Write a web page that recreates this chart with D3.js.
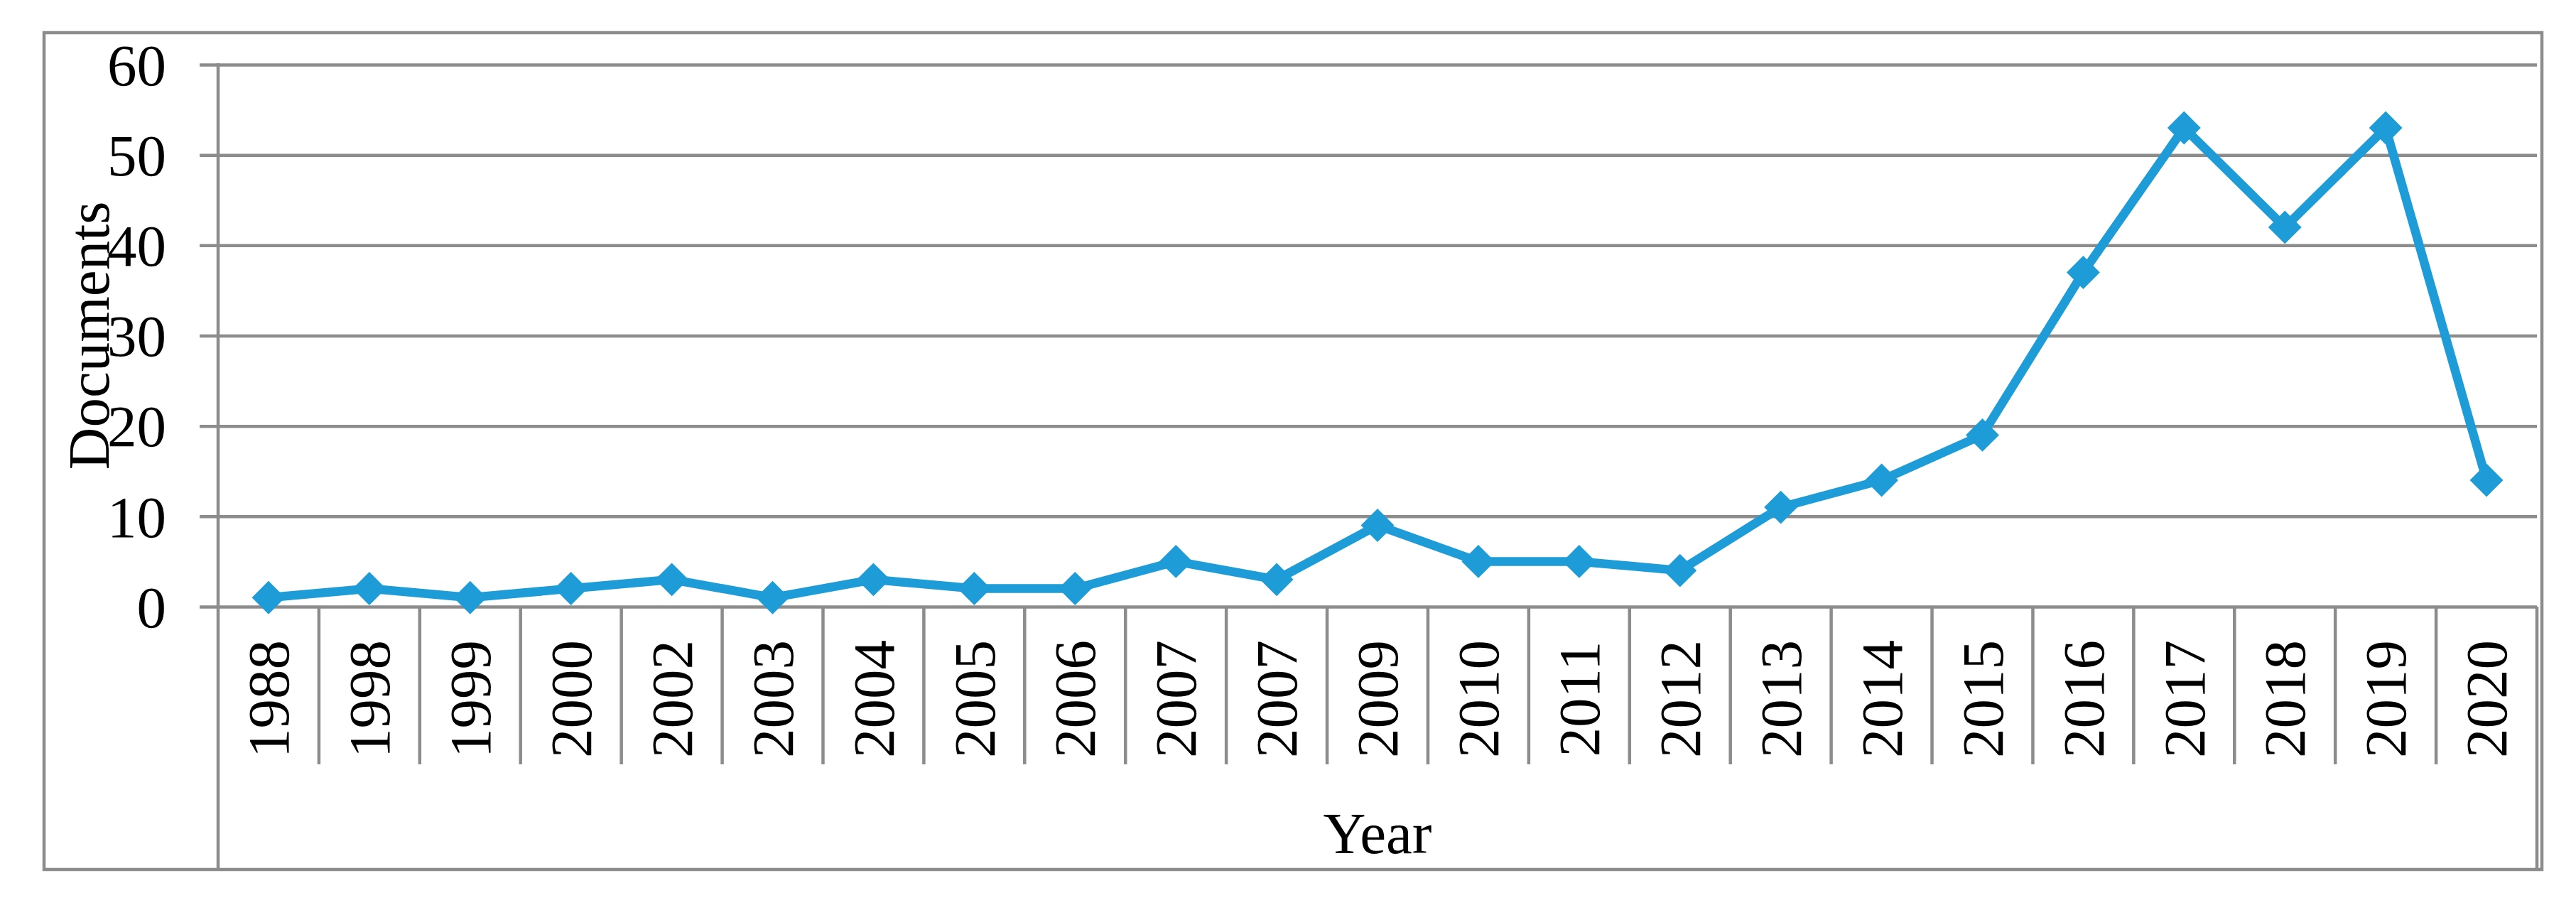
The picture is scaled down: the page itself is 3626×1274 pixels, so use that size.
<!DOCTYPE html>
<html>
<head>
<meta charset="utf-8">
<script src="https://cdn.jsdelivr.net/npm/d3@7"></script>
<style>
  html, body { margin: 0; padding: 0; background: #fff; }
  svg { display: block; }
  text { font-family: "Liberation Serif", "Times New Roman", serif; fill: #000; }
</style>
</head>
<body>
<svg id="chart" width="3626" height="1274"></svg>
<script>
// ---- data ----
const years = ["1988","1998","1999","2000","2002","2003","2004","2005","2006","2007","2007","2009","2010","2011","2012","2013","2014","2015","2016","2017","2018","2019","2020"];
const documents = [1, 2, 1, 2, 3, 1, 3, 2, 2, 5, 3, 9, 5, 5, 4, 11, 14, 19, 37, 53, 42, 53, 14];
const yTicks = [0, 10, 20, 30, 40, 50, 60];
const xTitle = "Year";
const yTitle = "Documents";

// ---- layout ----
const W = 3626, H = 1274;
const frame = { x0: 62, y0: 46, x1: 3578, y1: 1224 };
const plot = { left: 307, right: 3571, top: 91, bottom: 854 };
const tableBottom = 1076;
const gray = "#8c8c8c";
const blue = "#1e9cd8";
const fontSize = 83;

const svg = d3.select("#chart");

const idx = d3.range(years.length);
const x = d3.scaleBand().domain(idx).range([plot.left, plot.right]).padding(0);
const y = d3.scaleLinear().domain([0, 60]).range([plot.bottom, plot.top]);

// outer frame
svg.append("rect")
  .attr("x", frame.x0).attr("y", frame.y0)
  .attr("width", frame.x1 - frame.x0).attr("height", frame.y1 - frame.y0)
  .attr("fill", "none").attr("stroke", gray).attr("stroke-width", 4.5);

// y axis with gridlines
const tickStart = 281;
const yAxis = d3.axisLeft(y)
  .tickValues(yTicks)
  .tickSizeInner(-(plot.right - tickStart))
  .tickSizeOuter(0)
  .tickPadding(47)
  .tickFormat(d3.format("d"));

const gy = svg.append("g")
  .attr("transform", `translate(${tickStart},0)`)
  .call(yAxis);
gy.select(".domain").remove();
gy.selectAll(".tick line").attr("stroke", gray).attr("stroke-width", 4.5);
gy.selectAll(".tick text")
  .attr("font-size", fontSize)
  .attr("font-family", "Liberation Serif, Times New Roman, serif")
  .attr("fill", "#000")
  .attr("dy", "0.34em");

// y axis line (continues to frame bottom as table border)
svg.append("line")
  .attr("x1", plot.left).attr("x2", plot.left)
  .attr("y1", plot.top - 2).attr("y2", frame.y1)
  .attr("stroke", gray).attr("stroke-width", 4.5);

// right border of category table
svg.append("line")
  .attr("x1", plot.right).attr("x2", plot.right)
  .attr("y1", plot.bottom).attr("y2", frame.y1)
  .attr("stroke", gray).attr("stroke-width", 4.5);

// category separators
svg.append("g").selectAll("line")
  .data(idx.slice(1))
  .join("line")
  .attr("x1", d => x(d)).attr("x2", d => x(d))
  .attr("y1", plot.bottom).attr("y2", tableBottom)
  .attr("stroke", gray).attr("stroke-width", 4.5);

// x axis labels (rotated)
const xAxis = d3.axisBottom(x)
  .tickSize(0)
  .tickFormat(i => years[i]);
const gx = svg.append("g")
  .attr("transform", `translate(0,0)`)
  .call(xAxis);
gx.select(".domain").remove();
gx.selectAll(".tick line").remove();
gx.selectAll(".tick text")
  .attr("font-size", fontSize)
  .attr("font-family", "Liberation Serif, Times New Roman, serif")
  .attr("fill", "#000")
  .attr("text-anchor", "middle")
  .attr("y", 0)
  .attr("dy", "0.34em")
  .attr("transform", "translate(0,984) rotate(-90)");

// axis titles
svg.append("text")
  .attr("transform", `translate(153,${(plot.top + plot.bottom) / 2}) rotate(-90)`)
  .attr("text-anchor", "middle")
  .attr("font-size", fontSize)
  .text(yTitle);

svg.append("text")
  .attr("x", (plot.left + plot.right) / 2)
  .attr("y", 1201)
  .attr("text-anchor", "middle")
  .attr("font-size", fontSize)
  .text(xTitle);

// line
const cx = i => x(i) + x.bandwidth() / 2;
const line = d3.line().x((d, i) => cx(i)).y(d => y(d));
svg.append("path")
  .datum(documents)
  .attr("d", line)
  .attr("fill", "none")
  .attr("stroke", blue)
  .attr("stroke-width", 12.5)
  .attr("stroke-linejoin", "miter");

// diamond markers
const sym = d3.symbol().type(d3.symbolSquare).size(1100);
svg.append("g").selectAll("path")
  .data(documents)
  .join("path")
  .attr("d", sym)
  .attr("transform", (d, i) => `translate(${cx(i)},${y(d)}) rotate(45)`)
  .attr("fill", blue);
</script>
</body>
</html>
